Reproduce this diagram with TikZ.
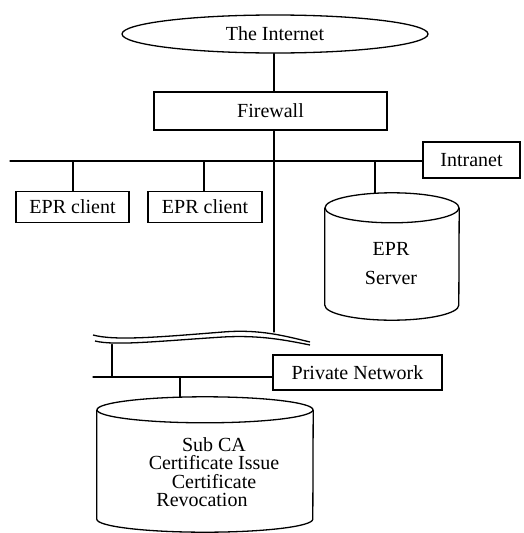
\documentclass[tikz,border=0pt]{standalone}
\usepackage{fontspec}
\setmainfont{Liberation Serif}
\usetikzlibrary{shapes.geometric,calc}
\begin{document}
\begin{tikzpicture}[x=1pt,y=-1pt,
  every node/.style={font=\fontsize{20}{18.5}\selectfont, inner sep=0pt},
  ln/.style={line width=1.3pt, line cap=round},
  boxnode/.style={draw, line width=1.3pt, rectangle},
  cloud/.style={draw, line width=1.3pt, ellipse},
  outl/.style={line width=1.3pt},
  cylbody/.style={draw=none, rectangle}]
\useasboundingbox (0,0) rectangle (523,533);

% Internet and firewall
\node[cloud, minimum width=306pt, minimum height=38pt] (inet) at (275,34) {The Internet};
\node[boxnode, minimum width=233pt, minimum height=38pt] (fw) at (270.5,111) {Firewall};
\coordinate (mainEnd) at (274,332);
\draw[ln] (inet.south -| mainEnd) -- (fw.north -| mainEnd);
\draw[ln] (fw.south -| mainEnd) -- (mainEnd);

% Intranet bus
\node[boxnode, minimum width=97pt, minimum height=36pt] (intra) at (471.5,160) {Intranet};
\coordinate (bus1L) at (10,161);
\draw[ln] (bus1L) -- (bus1L -| intra.west);
\draw[line width=2pt] (bus1L) -- (113,161);
\draw[line width=2pt] (318,161) -- (bus1L -| intra.west);

% EPR clients
\node[boxnode, minimum width=113pt, minimum height=31pt] (c1) at (72.5,207) {EPR client};
\node[boxnode, minimum width=114pt, minimum height=31pt] (c2) at (205,207) {EPR client};
\draw[ln] (c1.north -| 73,0) -- (bus1L -| 73,0);
\draw[ln] (c2.north -| 204,0) -- (bus1L -| 204,0);

% EPR server cylinder
\node[cylbody, minimum width=134pt, minimum height=127pt] (srv) at (392,256.5) {};
\draw[outl] ([yshift=-15pt]srv.north) ellipse [x radius=67pt, y radius=15pt];
\draw[outl] ([yshift=-15pt]srv.north west) -- ([yshift=15pt]srv.south west)
   arc[start angle=180, end angle=360, x radius=67pt, y radius=15pt]
   -- ([yshift=-15pt]srv.north east);
\node[align=center] (srvtext) at (391,263.5) {EPR\\[10pt]Server};
\draw[ln] (srv.north -| 375,0) -- (bus1L -| 375,0);

% break (wavy) lines
\draw[outl] (93,335) .. controls (115,341) and (160,337) .. (223,332)
   .. controls (260,329) and (285,336) .. (310,342);
\draw[outl] (95,341) .. controls (115,346) and (160,341) .. (223,337)
   .. controls (260,335) and (285,340) .. (310,345);
\coordinate (breakPt) at (112,344.5);

% Private network bus
\node[boxnode, minimum width=169pt, minimum height=35pt] (pn) at (357.5,372.5) {Private Network};
\coordinate (bus2L) at (93,377);
\draw[ln] (bus2L) -- (bus2L -| pn.west);
\draw[ln] (breakPt) -- (breakPt |- bus2L);

% Sub CA cylinder
\node[cylbody, minimum width=216pt, minimum height=135pt] (subca) at (205,464.5) {};
\draw[outl] ([yshift=-13pt]subca.north) ellipse [x radius=108pt, y radius=13pt];
\draw[outl] ([yshift=-13pt]subca.north west) -- ([yshift=13pt]subca.south west)
   arc[start angle=180, end angle=360, x radius=108pt, y radius=13pt]
   -- ([yshift=-13pt]subca.north east);
\node[align=center] (subcatext) at (214,472) {Sub CA\\Certificate Issue\\Certificate\\Revocation\hspace*{24pt}};
\draw[ln] (bus2L -| 180,0) -- ($(subca.north -| 180,0)+(0,0.5)$);
\end{tikzpicture}
\end{document}
